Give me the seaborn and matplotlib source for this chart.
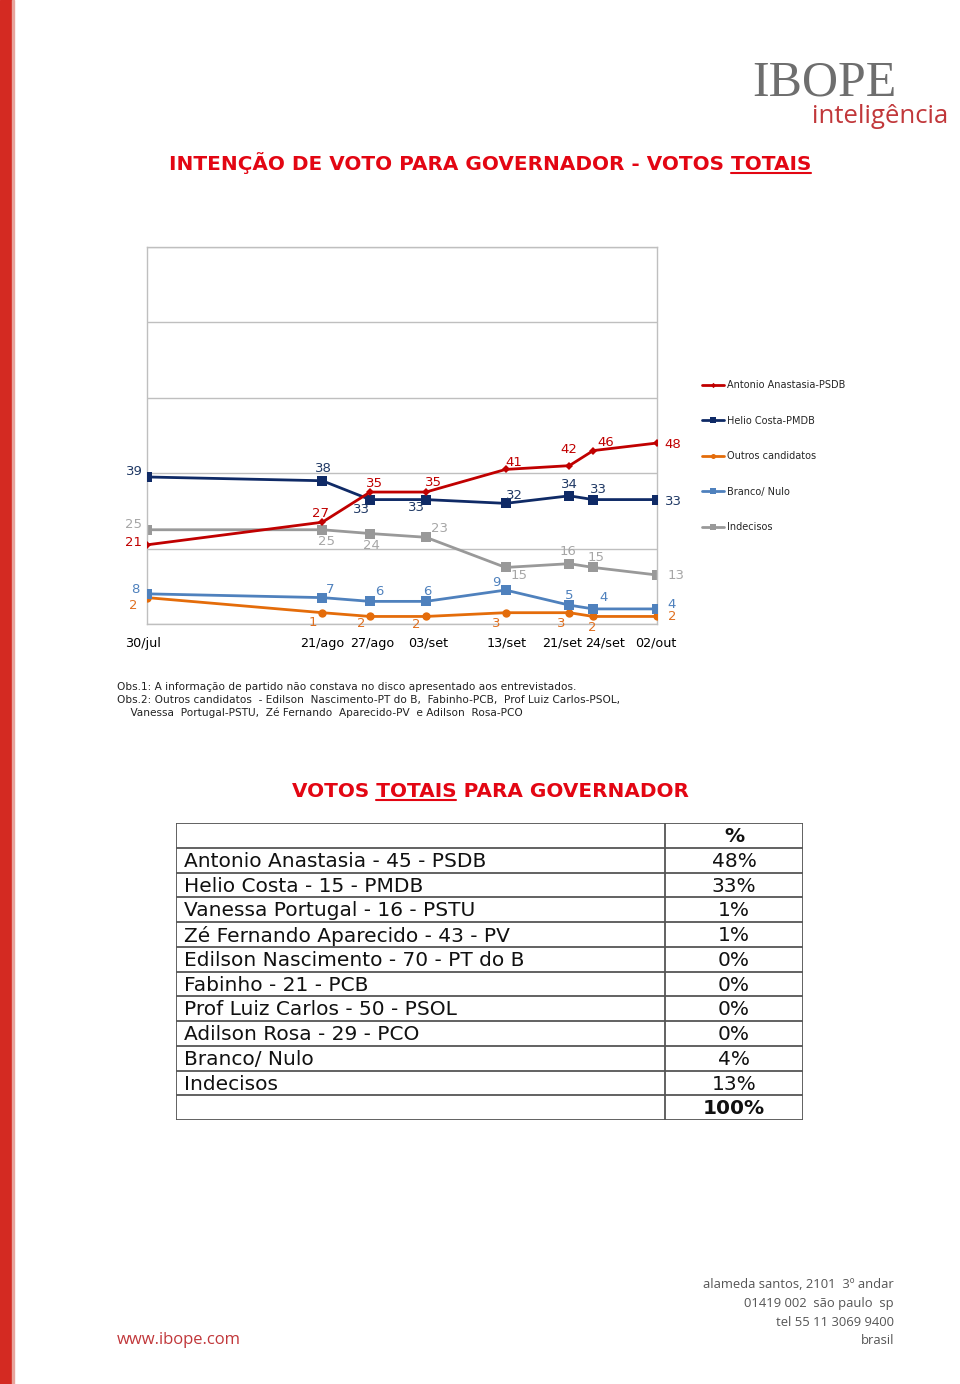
import matplotlib
matplotlib.use("Agg")
import matplotlib.pyplot as plt
from matplotlib.lines import Line2D
from matplotlib.patches import Rectangle
import seaborn as sns
import pandas as pd

# ---------------- data ----------------
datas = ["2010-07-30", "2010-08-21", "2010-08-27", "2010-09-03",
         "2010-09-13", "2010-09-21", "2010-09-24", "2010-10-02"]
rotulos_x = ["30/jul", "21/ago", "27/ago", "03/set", "13/set", "21/set", "24/set", "02/out"]

anastasia = [21, 27, 35, 35, 41, 42, 46, 48]
helio = [39, 38, 33, 33, 32, 34, 33, 33]
outros = [7, 3, 2, 2, 3, 3, 2, 2]            # plotted positions as drawn
outros_rotulos = ["2", "1", "2", "2", "3", "3", "2", "2"]  # labels as printed
branco = [8, 7, 6, 6, 9, 5, 4, 4]
indecisos = [25, 25, 24, 23, 15, 16, 15, 13]

series_nomes = ["Antonio Anastasia-PSDB", "Helio Costa-PMDB", "Outros candidatos",
                "Branco/ Nulo", "Indecisos"]

tabela_nomes = ["Antonio Anastasia - 45 - PSDB", "Helio Costa - 15 - PMDB",
                "Vanessa Portugal - 16 - PSTU", "Zé Fernando Aparecido - 43 - PV",
                "Edilson Nascimento - 70 - PT do B", "Fabinho - 21 - PCB",
                "Prof Luiz Carlos - 50 - PSOL", "Adilson Rosa - 29 - PCO",
                "Branco/ Nulo", "Indecisos"]
tabela_valores = ["48%", "33%", "1%", "1%", "0%", "0%", "0%", "0%", "4%", "13%"]
tabela_total = "100%"

# ---------------- style ----------------
sns.set_style("white")
plt.rcParams["font.family"] = ["DejaVu Sans"]

W, H = 960, 1384
fig = plt.figure(figsize=(W / 100, H / 100), dpi=100)


def fx(px):
    return px / W


def fy(py):
    return 1 - py / H


# red bar on the left
fig.add_artist(Rectangle((0, 0), fx(12), 1, transform=fig.transFigure,
                         color="#d42a22", zorder=0))
fig.add_artist(Rectangle((fx(12), 0), fx(2), 1, transform=fig.transFigure,
                         color="#e8a49c", zorder=0))

# logo
fig.text(fx(752), fy(95), "IBOPE", family="Liberation Serif", fontsize=36,
         color="#6e6e6e", ha="left", va="baseline")
fig.text(fx(948), fy(123), "inteligência", family="Open Sans", fontsize=18.5,
         color="#c1373a", ha="right", va="baseline")

# ---------------- titles with underline ----------------
renderer = fig.canvas.get_renderer()


def title_underlined(cx, baseline_py, full, under, prefix, size=14.4):
    t = fig.text(0, 0, full, fontsize=size, weight="bold")
    wfull = t.get_window_extent(renderer).width
    t.remove()
    t2 = fig.text(0, 0, prefix + under, fontsize=size, weight="bold")
    wpre_under = t2.get_window_extent(renderer).width
    t2.remove()
    t3 = fig.text(0, 0, under, fontsize=size, weight="bold")
    wunder = t3.get_window_extent(renderer).width
    t3.remove()
    left = cx - wfull / 2
    fig.text(fx(left), fy(baseline_py), full, fontsize=size, weight="bold",
             color="#e30613", ha="left", va="baseline")
    x1 = left + wpre_under
    x0 = x1 - wunder
    fig.add_artist(Line2D([fx(x0), fx(x1)], [fy(baseline_py + 3)] * 2,
                          transform=fig.transFigure, color="#e30613", lw=1.5))


title_underlined(490, 170, "INTENÇÃO DE VOTO PARA GOVERNADOR - VOTOS TOTAIS", "TOTAIS",
                 "INTENÇÃO DE VOTO PARA GOVERNADOR - VOTOS ")
title_underlined(490, 797, "VOTOS TOTAIS PARA GOVERNADOR", "TOTAIS", "VOTOS ")

# ---------------- line chart ----------------
ax = fig.add_axes([fx(147), fy(624), fx(657) - fx(147), fy(247) - fy(624)])
x = pd.to_datetime(datas)

cores = ["#c00000", "#0f2a66", "#e46c0a", "#4f81bd", "#999999"]
cores_rot = ["#c00000", "#1f3864", "#e07020", "#4f81bd", "#a6a6a6"]
marcadores = ["D", "s", "o", "s", "s"]
tamanhos = [4.5, 6.5, 6, 6.5, 6.5]
valores = [anastasia, helio, outros, branco, indecisos]
textos = [[str(v) for v in anastasia], [str(v) for v in helio], outros_rotulos,
          [str(v) for v in branco], [str(v) for v in indecisos]]
offsets = [
    [(-14, 2), (-2, 9), (4, 9), (8, 10), (8, 7), (-1, 16), (13, 8), (16, -1)],
    [(-13, 5), (1, 12), (-9, -10), (-9, -8), (9, 8), (0, 11), (5, 10), (16, -2)],
    [(-14, -8), (-10, -10), (-9, -7), (-10, -8), (-9, -11), (-8, -11), (-1, -11), (15, 0)],
    [(-12, 4), (8, 8), (9, 10), (1, 10), (-9, 8), (0, 10), (10, 11), (15, 4)],
    [(-14, 5), (4, -12), (1, -12), (14, 9), (13, -8), (-1, 12), (3, 10), (19, -1)],
]
zord = [6, 5, 3, 4, 2]

for vals, nome, cor, mk, ms, z in zip(valores, series_nomes, cores, marcadores, tamanhos, zord):
    sns.lineplot(x=x, y=vals, ax=ax, color=cor, marker=mk, markersize=ms,
                 markeredgewidth=0, linewidth=2, label=nome, zorder=z)

for vals, txts, cor, offs in zip(valores, textos, cores_rot, offsets):
    for xi, yi, t, (dx, dy) in zip(x, vals, txts, offs):
        ax.annotate(t, (xi, yi), xytext=(dx, dy), textcoords="offset pixels",
                    ha="center", va="center", fontsize=9.5, color=cor,
                    annotation_clip=False, zorder=10)

ax.set_xlim(x[0], x[-1])
ax.set_ylim(0, 100)
ax.set_yticks([0, 20, 40, 60, 80, 100])
ax.set_yticklabels([])
ax.grid(axis="y", color="#bfbfbf", linewidth=1)
ax.set_xticks(x)
ax.set_xticklabels([])
ax.tick_params(axis="both", length=0)
# category labels under the axis (nudged apart where dates are close, as in the source)
desloc_x = [-4, 0, 2, 2, 1, -7, 12, -1]
for xi, lab, dx in zip(x, rotulos_x, desloc_x):
    ax.annotate(lab, (xi, 0), xycoords=("data", "axes fraction"), xytext=(dx, -19),
                textcoords="offset pixels", ha="center", va="center",
                fontsize=9.2, color="#000000", annotation_clip=False)
for s in ax.spines.values():
    s.set_color("#bfbfbf")
    s.set_linewidth(1)
ax.set_xlabel("")
ax.set_ylabel("")

leg = ax.legend(loc="upper left", bbox_to_anchor=(fx(702), fy(380)),
                bbox_transform=fig.transFigure, frameon=False, fontsize=7,
                handlelength=2.3, handletextpad=0.25, labelspacing=2.63,
                markerscale=0.6, borderaxespad=0, borderpad=0)

# ---------------- observations ----------------
obs = ["Obs.1: A informação de partido não constava no disco apresentado aos entrevistados.",
       "Obs.2: Outros candidatos  - Edilson  Nascimento-PT do B,  Fabinho-PCB,  Prof Luiz Carlos-PSOL,",
       "    Vanessa  Portugal-PSTU,  Zé Fernando  Aparecido-PV  e Adilson  Rosa-PCO"]
for i, line in enumerate(obs):
    fig.text(fx(117), fy(687 + 13 * i), line, fontsize=7.6, color="#222222",
             ha="left", va="center")

# ---------------- table ----------------
tx0, tx1, tdiv = 176, 803, 665
ty0, ty1 = 823, 1120
nrows = len(tabela_nomes) + 2
tax = fig.add_axes([fx(tx0), fy(ty1), fx(tx1) - fx(tx0), fy(ty0) - fy(ty1)])
tax.set_xlim(tx0, tx1)
tax.set_ylim(nrows, 0)
tax.axis("off")
for r in range(nrows + 1):
    tax.plot([tx0, tx1], [r, r], color="#555555", lw=1.3, solid_capstyle="butt")
for xv in (tx0, tdiv, tx1):
    tax.plot([xv, xv], [0, nrows], color="#555555", lw=1.3, solid_capstyle="butt")
ccol = (tdiv + tx1) / 2
fs_tab = 14.5
tax.text(ccol, 0.55, "%", ha="center", va="center", fontsize=fs_tab, weight="bold", color="#111111")
for i, (n, v) in enumerate(zip(tabela_nomes, tabela_valores)):
    tax.text(184, i + 1.55, n, ha="left", va="center", fontsize=fs_tab, color="#111111")
    tax.text(ccol, i + 1.55, v, ha="center", va="center", fontsize=fs_tab, color="#111111")
tax.text(ccol, nrows - 0.45, tabela_total, ha="center", va="center", fontsize=fs_tab,
         weight="bold", color="#111111")

# ---------------- footer ----------------
addr = ["alameda santos, 2101  3º andar", "01419 002  são paulo  sp",
        "tel 55 11 3069 9400", "brasil"]
for i, line in enumerate(addr):
    fig.text(fx(894), fy(1284 + 19 * i), line, family="Open Sans", fontsize=9.4,
             color="#555555", ha="right", va="center")
fig.text(fx(117), fy(1340), "www.ibope.com", family="Open Sans", fontsize=12,
         color="#c1373a", ha="left", va="center")

fig.savefig("out.png", dpi=100, facecolor="white")
